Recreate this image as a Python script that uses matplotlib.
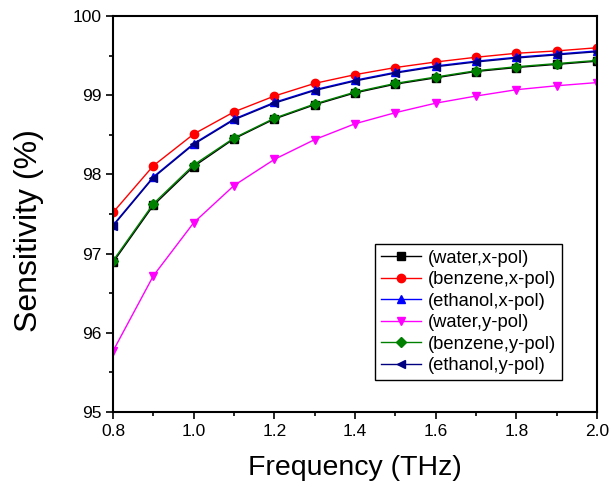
import matplotlib
matplotlib.use("Agg")
import matplotlib.pyplot as plt
from matplotlib.ticker import MultipleLocator, FormatStrFormatter

plt.rcParams['font.family'] = ['Liberation Sans', 'DejaVu Sans']

freq = [0.8, 0.9, 1.0, 1.1, 1.2, 1.3, 1.4, 1.5, 1.6, 1.7, 1.8, 1.9, 2.0]
water_x = [96.89, 97.61, 98.10, 98.45, 98.70, 98.88, 99.03, 99.14, 99.22, 99.30, 99.35, 99.39, 99.43]
benzene_x = [97.52, 98.11, 98.51, 98.79, 98.99, 99.15, 99.26, 99.35, 99.42, 99.48, 99.53, 99.56, 99.60]
ethanol_x = [97.36, 97.97, 98.39, 98.70, 98.91, 99.07, 99.19, 99.29, 99.37, 99.43, 99.48, 99.52, 99.56]
water_y = [95.77, 96.72, 97.39, 97.86, 98.19, 98.44, 98.64, 98.78, 98.90, 98.99, 99.07, 99.12, 99.16]
benzene_y = [96.91, 97.63, 98.12, 98.46, 98.71, 98.89, 99.04, 99.15, 99.23, 99.31, 99.36, 99.40, 99.44]
ethanol_y = [97.35, 97.96, 98.38, 98.69, 98.90, 99.06, 99.18, 99.28, 99.36, 99.42, 99.47, 99.51, 99.55]

series = [
    (water_x, '(water,x-pol)', 'black', 's'),
    (benzene_x, '(benzene,x-pol)', 'red', 'o'),
    (ethanol_x, '(ethanol,x-pol)', 'blue', '^'),
    (water_y, '(water,y-pol)', 'magenta', 'v'),
    (benzene_y, '(benzene,y-pol)', 'green', 'D'),
    (ethanol_y, '(ethanol,y-pol)', 'navy', '<'),
]

fig = plt.figure(figsize=(6.11, 4.87), dpi=100)
ax = fig.add_axes([0.185, 0.154, 0.792, 0.813])
for vals, lab, col, mk in series:
    ms = 6 if mk != 'D' else 5.5
    ax.plot(freq, vals, color=col, marker=mk, markersize=ms, linewidth=1.0, label=lab)

ax.set_xlim(0.8, 2.0)
ax.set_ylim(95, 100)
ax.xaxis.set_major_locator(MultipleLocator(0.2))
ax.xaxis.set_minor_locator(MultipleLocator(0.1))
ax.yaxis.set_major_locator(MultipleLocator(1))
ax.yaxis.set_minor_locator(MultipleLocator(0.5))
ax.xaxis.set_major_formatter(FormatStrFormatter('%.1f'))
ax.yaxis.set_major_formatter(FormatStrFormatter('%d'))
ax.tick_params(which='major', direction='out', length=5, width=1.2, labelsize=12.5)
ax.tick_params(which='minor', direction='out', length=3, width=1.2)
for s in ax.spines.values():
    s.set_linewidth(1.5)

ax.set_xlabel('Frequency (THz)', fontsize=20.5, labelpad=12)
ax.set_ylabel('Sensitivity (%)', fontsize=23)
ax.yaxis.set_label_coords(-0.143, 0.457)

leg = ax.legend(loc='lower right', bbox_to_anchor=(0.928, 0.081), borderaxespad=0,
                fontsize=13.2, frameon=True, fancybox=False, edgecolor='black',
                framealpha=1, labelspacing=0.25, handlelength=2.2, borderpad=0.3,
                handletextpad=0.4)
leg.get_frame().set_linewidth(1.0)

fig.savefig('out.png', dpi=100)
